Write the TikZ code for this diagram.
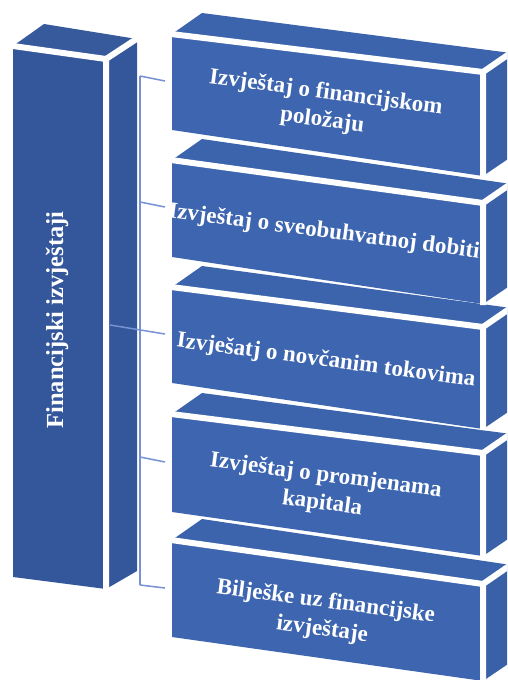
\documentclass[tikz,border=0pt]{standalone}
\usepackage{fontspec}
\setmainfont{Liberation Serif}
\definecolor{frontblue}{RGB}{62,102,176}
\definecolor{sideblue}{RGB}{58,96,168}
\definecolor{topblue}{RGB}{60,100,172}
\definecolor{colblue}{RGB}{52,87,155}
\definecolor{linkblue}{RGB}{118,146,210}
\begin{document}
\begin{tikzpicture}[x=1pt,y=-1pt,
  edgeline/.style={white,line width=6pt},
  boxlabel/.style={text=white,font=\bfseries\fontsize{23}{28}\selectfont,align=center,rotate=-7.5,inner sep=0pt},
  collabel/.style={text=white,font=\bfseries\fontsize{24.5}{28}\selectfont,rotate=90,inner sep=0pt},
  link/.style={linkblue,line width=1.5pt}]
\useasboundingbox (0,0) rectangle (507,680);
\begin{scope}
\clip (0,0) rectangle (507,680);
% left column
\fill[topblue!90!black] (13,46) -- (44,24) -- (137,39) -- (106,59) -- cycle;
\fill[colblue] (106,59) -- (137,39) -- (137,571) -- (106,589) -- cycle;
\fill[colblue] (13,46) -- (106,59) -- (106,589) -- (13,577) -- cycle;
\draw[edgeline] (13,46) -- (106,59) -- (106,590);
\draw[edgeline] (106,59) -- (138,38);
% right boxes
\foreach \a/\b/\c/\d in {540/584/681/637, 414/453/556/512, 287/327/429/383, 160/203/304/257, 34/72/176/130}{
  \fill[topblue] (172,\a) -- (202,\a-21) -- (511,\b-19) -- (483,\b) -- cycle;
  \fill[sideblue] (483,\b) -- (511,\b-19) -- (511,\c-19) -- (483,\c) -- cycle;
  \fill[frontblue] (172,\a) -- (483,\b) -- (483,\c) -- (172,\d) -- cycle;
  \draw[edgeline] (171,\a) -- (483,\b) -- (483,\c+1);
  \draw[edgeline] (483,\b) -- (512,\b-20);
}
\end{scope}
% connector points
\coordinate (v1) at (140,76);
\coordinate (e1) at (165,81);
\coordinate (v2) at (140,202);
\coordinate (e2) at (165,207);
\coordinate (v3) at (110,325);
\coordinate (e3) at (165,334);
\coordinate (v4) at (140,457);
\coordinate (e4) at (165,462);
\coordinate (v5) at (140,585);
\coordinate (e5) at (165,588);
\draw[link] (v1) -- (v5);
\draw[link] (v1) -- (e1);
\draw[link] (v2) -- (e2);
\draw[link] (v3) -- (e3);
\draw[link] (v4) -- (e4);
\draw[link] (v5) -- (e5);
% labels
\node[collabel] (col) at (57,320) {Financijski izvještaji};
\node[boxlabel] (t1) at (324,107) {Izvještaj o financijskom\\položaju};
\node[boxlabel] (t2) at (324,232) {Izvještaj o sveobuhvatnoj dobiti};
\node[boxlabel] (t3) at (326,361) {Izvješatj o novčanim tokovima};
\node[boxlabel] (t4) at (324,490) {Izvještaj o promjenama\\kapitala};
\node[boxlabel] (t5) at (324,616) {Bilješke uz financijske\\izvještaje};
\end{tikzpicture}
\end{document}
